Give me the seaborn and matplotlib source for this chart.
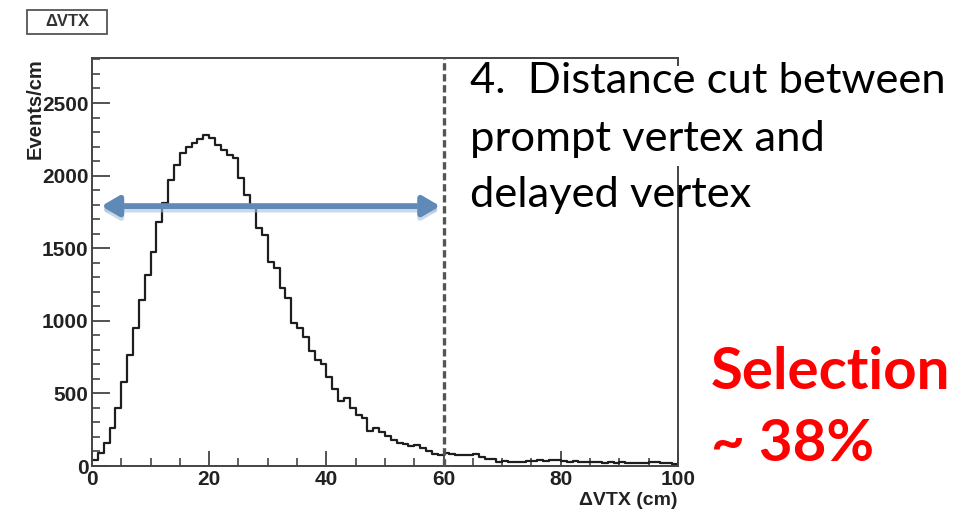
import numpy as np
import pandas as pd
import matplotlib
matplotlib.use("Agg")
import matplotlib.pyplot as plt
import matplotlib.patheffects as pe
import seaborn as sns
from matplotlib.patches import Rectangle
from matplotlib.ticker import MultipleLocator

# Distance between prompt and delayed vertex, 1 cm bins
bin_edges = list(range(0, 101))
events_per_cm = [
    40, 87, 156, 260, 397, 581, 765, 949, 1144, 1316,
    1477, 1683, 1810, 1971, 2074, 2154, 2200, 2223, 2250, 2278,
    2262, 2212, 2177, 2140, 2120, 1982, 1867, 1778, 1640, 1590,
    1405, 1365, 1225, 1155, 985, 950, 890, 790, 730, 700,
    610, 530, 450, 470, 400, 350, 330, 240, 262, 236,
    205, 180, 160, 150, 135, 145, 122, 100, 85, 75,
    90, 85, 75, 75, 78, 85, 65, 50, 45, 30,
    32, 30, 28, 30, 35, 33, 38, 35, 40, 42,
    36, 30, 33, 28, 25, 30, 28, 22, 25, 20,
    25, 22, 18, 20, 22, 30, 26, 20, 18, 15,
]
cut_value = 60
arrow_level = 1790
arrow_span = [1.6, 59.4]
x_ticks = [0, 20, 40, 60, 80, 100]
y_ticks = [0, 500, 1000, 1500, 2000, 2500]

W, H = 962, 515
sns.set_theme(style="white")
plt.rcParams["font.family"] = ["Liberation Sans", "DejaVu Sans"]

fig = plt.figure(figsize=(W / 100, H / 100), dpi=100)
fig.patch.set_facecolor("white")


def fx(px):
    return px / W


def fy(py):
    return 1 - py / H


ax = fig.add_axes([fx(92), fy(466), fx(678) - fx(92), fy(58) - fy(466)])

df = pd.DataFrame({"dvtx": np.array(bin_edges[:-1]) + 0.5,
                   "events": events_per_cm})
sns.histplot(data=df, x="dvtx", weights="events", bins=bin_edges,
             element="step", fill=False, color="#1e1e1e", linewidth=1.6,
             ax=ax, legend=False)

ax.set_xlim(0, 100)
ax.set_ylim(0, 2810)
ax.set_xticks(x_ticks)
ax.set_yticks(y_ticks)
ax.xaxis.set_minor_locator(MultipleLocator(5))
ax.yaxis.set_minor_locator(MultipleLocator(100))
ax.tick_params(which="major", direction="in", length=13, width=1.3,
               color="#444444", labelsize=15, labelcolor="#222222", pad=2.5)
ax.tick_params(axis="x", which="major", length=11, pad=3)
ax.tick_params(which="minor", direction="in", length=6, width=1.2,
               color="#444444")
ax.tick_params(left=True, bottom=True, right=False, top=False,
               which="both")
for lab in ax.get_xticklabels() + ax.get_yticklabels():
    lab.set_fontweight("bold")
for s in ax.spines.values():
    s.set_color("#444444")
    s.set_linewidth(1.4)

ax.set_ylabel("Events/cm", fontsize=14.5, fontweight="bold",
              color="#222222", loc="top")
ax.yaxis.set_label_coords(-0.08, 1.0)
ax.set_xlabel("\u0394VTX (cm)", fontsize=14, fontweight="bold",
              color="#222222", loc="right")
ax.xaxis.set_label_coords(1.0, -0.064)

# cut position
ax.axvline(cut_value, color="#555555", lw=2.4, dashes=(2.2, 1.1), zorder=3)

# accepted range
ax.annotate("", xy=(arrow_span[1], arrow_level),
            xytext=(arrow_span[0], arrow_level),
            arrowprops=dict(arrowstyle="<|-|>,head_length=0.85,head_width=0.5",
                            lw=4.2, color="#5f8ab8", shrinkA=0, shrinkB=0,
                            path_effects=[pe.SimpleLineShadow(offset=(0, -2.5),
                                                              shadow_color="#a9c0d8",
                                                              alpha=0.6),
                                          pe.Normal()]),
            zorder=4)

# histogram name box
fig.patches.append(Rectangle((fx(27), fy(34)), fx(107) - fx(27), fy(10) - fy(34),
                             transform=fig.transFigure, fc="white",
                             ec="#555555", lw=1.3))
fig.text(fx(67), fy(22), "\u0394VTX", ha="center", va="center",
         fontsize=12, fontweight="bold", color="#333333")

# note beside the plot
fig.patches.append(Rectangle((fx(465), fy(166)), fx(955) - fx(465), fy(66) - fy(166),
                             transform=fig.transFigure, fc="white", ec="none",
                             zorder=2))
note_lines = ["4.  Distance cut between", "prompt vertex and", "delayed vertex"]
note_base = [93, 151, 207]
note_size = 30
note_texts = [fig.text(fx(470), fy(b), t, ha="left", va="baseline",
                       fontsize=note_size, family=["Lato", "DejaVu Sans"],
                       color="black", zorder=5)
              for t, b in zip(note_lines, note_base)]

sel_lines = ["Selection", "~ 38%"]
sel_base = [389, 461]
sel_texts = [fig.text(fx(711), fy(b), t, ha="left", va="baseline",
                      fontsize=42, fontweight="bold",
                      family=["Lato", "DejaVu Sans"], color="#ff0000", zorder=5)
             for t, b in zip(sel_lines, sel_base)]

# size the annotation text to its line widths
renderer = fig.canvas.get_renderer()
w1 = note_texts[0].get_window_extent(renderer).width
scale = 475 / w1
for t in note_texts:
    t.set_fontsize(note_size * scale)
w2 = sel_texts[0].get_window_extent(renderer).width
scale2 = 240 / w2
for t in sel_texts:
    t.set_fontsize(42 * scale2)

fig.savefig("out.png", dpi=100, facecolor="white")
